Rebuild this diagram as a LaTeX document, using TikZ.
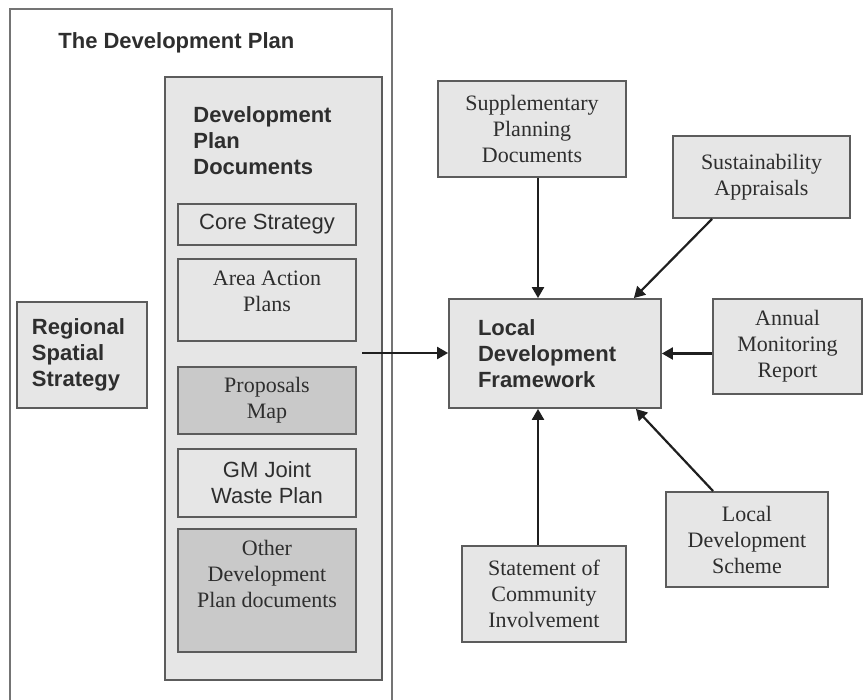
\documentclass[tikz,border=0pt]{standalone}
\usepackage{fontspec}
\setmainfont{Liberation Serif}
\setsansfont{Liberation Sans}
\usetikzlibrary{arrows.meta}

\definecolor{boxfill}{HTML}{E6E6E6}
\definecolor{darkfill}{HTML}{C9C9C9}
\definecolor{boxline}{HTML}{5C5C5C}
\definecolor{inktext}{HTML}{2E2E2E}

\begin{document}
\begin{tikzpicture}[x=0.5pt, y=-0.5pt,
    box/.style={draw=boxline, line width=0.9pt, fill=boxfill, inner sep=0pt, text=inktext,
        font=\fontsize{11}{13}\selectfont, align=center},
    darkbox/.style={box, fill=darkfill},
    bold/.style={font=\fontsize{11}{13}\selectfont\sffamily\bfseries},
    plain/.style={font=\fontsize{11}{13}\selectfont\sffamily},
    arr/.style={-{Triangle[length=5.5pt,width=6pt]}, line width=1.1pt, draw=black!88}]

  \useasboundingbox (0,0) rectangle (864,700);
  \fill[white] (0,0) rectangle (864,700);

  % the development plan frame
  \draw[draw=boxline!85, line width=0.9pt] (10,700) -- (10,9) -- (392,9) -- (392,700);
  \node[bold, anchor=west, inner sep=0pt, text=inktext] (dptitle) at (58,43) {The Development Plan};

  \node[box, bold, minimum width=65pt, minimum height=53pt, text width=50pt, align=left] (rss) at (82,355) {Regional\\Spatial\\Strategy};

  % development plan documents
  \node[box, minimum width=108.5pt, minimum height=301.5pt] (dpd) at (273.5,378.5) {};
  \node[bold, anchor=north west, inner sep=0pt, align=left, text=inktext] (dpdtitle) at (193,106) {Development\\Plan\\Documents};

  \node[box, plain, minimum width=89pt, minimum height=20.5pt] (core) at (267,224.5) {Core Strategy};
  \node[box, minimum width=89pt, minimum height=41pt] (aap) at (267,300) {};
  \node[anchor=north, inner sep=0pt, align=center, text=inktext, font=\fontsize{11}{13}\selectfont] (aaptext) at ([yshift=-6pt]aap.north) {Area Action\\Plans};
  \node[darkbox, minimum width=89pt, minimum height=33.5pt] (prop) at (267,400.5) {Proposals\\Map};
  \node[box, plain, minimum width=89pt, minimum height=34pt] (gmw) at (267,483) {GM Joint\\Waste Plan};
  \node[darkbox, minimum width=89pt, minimum height=61.5pt] (oth) at (267,590.5) {};
  \node[anchor=north, inner sep=0pt, align=center, text=inktext, font=\fontsize{11}{13}\selectfont] (othtext) at ([yshift=-6pt]oth.north) {Other\\Development\\Plan documents};
  \coordinate (dpdout) at (362,353);

  % local development framework and inputs
  \node[box, bold, minimum width=106pt, minimum height=54.5pt, text width=77pt, align=left] (ldf) at (555,353.5) {Local\\Development\\Framework};
  \node[box, minimum width=94pt, minimum height=48pt] (spd) at (532,129) {Supplementary\\Planning\\Documents};
  \node[box, minimum width=88.5pt, minimum height=41pt] (sa) at (761.5,177) {Sustainability\\Appraisals};
  \node[box, minimum width=74.5pt, minimum height=47.5pt] (amr) at (787.5,346.5) {Annual\\Monitoring\\Report};
  \node[box, minimum width=82pt, minimum height=48pt] (sci) at (544,594) {Statement of\\Community\\Involvement};
  \node[box, minimum width=81pt, minimum height=47.5pt] (lds) at (747,539.5) {Local\\Development\\Scheme};

  \draw[arr] (dpdout) -- (dpdout -| ldf.west);
  \draw[arr] ([xshift=3pt]spd.south) -- ([xshift=3pt]spd.south |- ldf.north);
  \draw[arr] ([xshift=20pt]sa.south west) -- ([xshift=-14pt]ldf.north east);
  \draw[arr] (ldf.east -| amr.west) -- (ldf.east);
  \draw[arr] ([xshift=-3pt]sci.north) -- ([xshift=-3pt]sci.north |- ldf.south);
  \draw[arr] ([xshift=24pt]lds.north west) -- ([xshift=-13pt]ldf.south east);
\end{tikzpicture}
\end{document}
